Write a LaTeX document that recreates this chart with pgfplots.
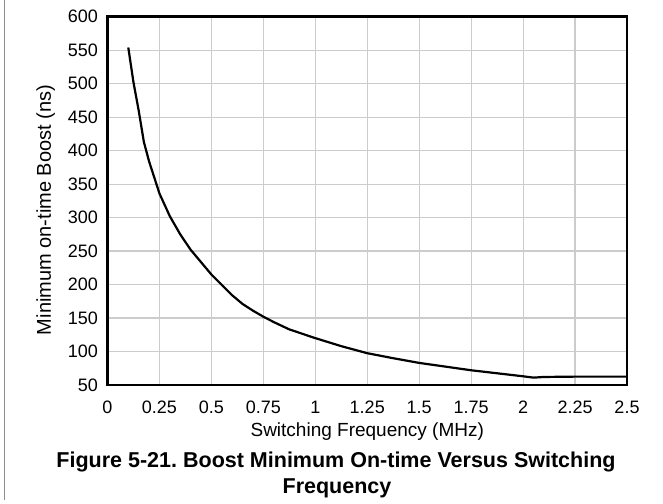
\documentclass[border=0pt]{standalone}
\usepackage{fontspec}
\setmainfont{Liberation Sans}
\usepackage{pgfplots}
\pgfplotsset{compat=1.18}
\frenchspacing
\begin{document}
\begin{tikzpicture}[x=1pt,y=1pt]
\useasboundingbox (0,0) rectangle (663,503);
\draw[line width=1pt, color=black!45] (4,503) -- (4,3);
\begin{axis}[
  at={(107.5pt,118pt)}, anchor=south west,
  scale only axis, width=519.5pt, height=368.3pt,
  xmin=0, xmax=2.5, ymin=50, ymax=600,
  xtick={0,0.25,0.5,0.75,1,1.25,1.5,1.75,2,2.25,2.5},
  xticklabels={0,0.25,0.5,0.75,1,1.25,1.5,1.75,2,2.25,2.5},
  ytick={50,100,150,200,250,300,350,400,450,500,550,600},
  grid=major,
  major grid style={color=black!20, line width=1.2pt},
  axis line style={line width=2.6pt, line cap=rect},
  major tick length=0pt,
  tick style={draw=none},
  /pgf/number format/assume math mode=true,
  ticklabel style={font=\fontsize{18}{21}\selectfont},
  yticklabel style={anchor=east, inner sep=0pt, xshift=-9.5pt},
  xticklabel style={anchor=base, inner sep=0pt, yshift=-28pt},
  xlabel={Switching Frequency (MHz)},
  ylabel={Minimum on-time Boost (ns)},
  xlabel style={font=\fontsize{19}{22}\selectfont, at={(axis description cs:0.5,-0.1385)}, anchor=base, inner sep=0pt},
  ylabel style={font=\fontsize{20}{23}\selectfont, at={(axis description cs:-0.1088,0.475)}, anchor=base, inner sep=0pt, rotate=0},
]
\addplot[black, line width=2.2pt, line join=round] coordinates {
(0.1,554) (0.125,502) (0.15,460) (0.175,413) (0.2,384) (0.25,336)
(0.3,302) (0.35,275) (0.4,252) (0.5,215) (0.6,184) (0.65,171) (0.7,161)
(0.75,152) (0.8,144) (0.875,133) (1.0,120) (1.125,108) (1.25,97.5)
(1.375,90) (1.5,83) (1.75,72) (2.0,63) (2.05,61) (2.1,62) (2.25,62.5) (2.5,62.5)
};
\end{axis}
\node[anchor=base, font=\bfseries\fontsize{21.5}{25}\selectfont] at (336,36) {Figure 5-21. Boost Minimum On-time Versus Switching};
\node[anchor=base, font=\bfseries\fontsize{21.5}{25}\selectfont] at (337,10) {Frequency};
\end{tikzpicture}
\end{document}
